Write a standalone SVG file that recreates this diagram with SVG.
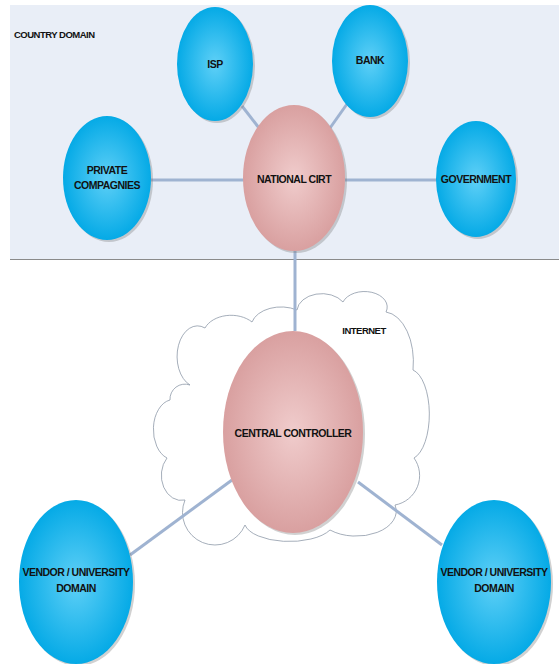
<svg xmlns="http://www.w3.org/2000/svg" width="559" height="664" viewBox="0 0 559 664">
<style>
.lbl{font-family:"Liberation Sans",Arial,sans-serif;font-weight:bold;font-size:10.5px;fill:#111;text-anchor:middle;letter-spacing:-0.5px}
.conn{stroke:#9fb3d1;stroke-width:3;fill:none}
.blue{fill:url(#gBlue)}
.pink{fill:url(#gPink)}
.shadow{fill:#7a7a7a;opacity:0.35}
</style>
<defs>
<radialGradient id="gBlue" cx="50%" cy="50%" r="50%">
<stop offset="0" stop-color="#5fd0f7"/>
<stop offset="1" stop-color="#05aae6"/>
</radialGradient>
<radialGradient id="gPink" cx="50%" cy="50%" r="50%">
<stop offset="0" stop-color="#f0cccc"/>
<stop offset="1" stop-color="#d9a0a0"/>
</radialGradient>
</defs>
<rect width="559" height="664" fill="#ffffff"/>
<g id="country-domain">
<rect x="10" y="5" width="549" height="254" fill="#e9eef7"/>
<line x1="10" y1="259.5" x2="559" y2="259.5" stroke="#8a8a8a" stroke-width="1"/>
<text class="lbl" x="14" y="38" style="text-anchor:start;font-size:9.5px">COUNTRY DOMAIN</text>
</g>
<g id="internet-cloud">
<path d="M 297 310 A 25 18 0 0 1 343 302 A 22 15 0 0 1 386 312 A 30 50 0 0 1 413 370 A 20 45 0 0 1 414 458 A 30 30 0 0 1 395 505 A 40 25 0 0 1 330 530 A 45 20 0 0 1 245 525 A 30 30 0 0 1 185 500 A 20 25 0 0 1 167 458 A 20 30 0 0 1 170 400 A 15 15 0 0 1 190 385 A 20 30 0 0 1 205 328 A 28 20 0 0 1 252 322 A 30 20 0 0 1 297 310 Z" fill="#ffffff" stroke="#8e99a8" stroke-width="0.8"/>
<text class="lbl" x="364" y="334" style="font-size:9.5px">INTERNET</text>
</g>
<g id="connectors">
<line class="conn" x1="151" y1="180" x2="244" y2="180"/>
<line class="conn" x1="345" y1="180" x2="437" y2="180"/>
<line class="conn" x1="242" y1="106" x2="259" y2="128"/>
<line class="conn" x1="347" y1="104" x2="330" y2="128"/>
<line class="conn" x1="295" y1="251" x2="295" y2="331"/>
<line class="conn" x1="232" y1="480" x2="130" y2="555"/>
<line class="conn" x1="358" y1="482" x2="442" y2="545"/>
</g>
<g id="isp">
<ellipse class="shadow" cx="217" cy="66" rx="38" ry="57"/>
<ellipse class="blue" cx="215" cy="64" rx="38" ry="57"/>
<text class="lbl" x="215" y="68">ISP</text>
</g>
<g id="bank">
<ellipse class="shadow" cx="372" cy="63" rx="38" ry="56"/>
<ellipse class="blue" cx="370" cy="61" rx="38" ry="56"/>
<text class="lbl" x="370" y="64">BANK</text>
</g>
<g id="private-compagnies">
<ellipse class="shadow" cx="109" cy="180" rx="44" ry="62"/>
<ellipse class="blue" cx="107" cy="178" rx="44" ry="62"/>
<text class="lbl" x="107" y="174">PRIVATE</text>
<text class="lbl" x="107" y="189">COMPAGNIES</text>
</g>
<g id="national-cirt">
<ellipse class="shadow" cx="296" cy="180" rx="51" ry="73"/>
<ellipse class="pink" cx="294" cy="178" rx="51" ry="73"/>
<text class="lbl" x="294" y="183">NATIONAL CIRT</text>
</g>
<g id="government">
<ellipse class="shadow" cx="478" cy="181" rx="40" ry="58"/>
<ellipse class="blue" cx="476" cy="179" rx="40" ry="58"/>
<text class="lbl" x="476" y="183">GOVERNMENT</text>
</g>
<g id="central-controller">
<ellipse class="shadow" cx="295" cy="434" rx="70" ry="101"/>
<ellipse class="pink" cx="293" cy="432" rx="70" ry="101"/>
<text class="lbl" x="293" y="437">CENTRAL CONTROLLER</text>
</g>
<g id="vendor-left">
<ellipse class="shadow" cx="78" cy="584" rx="57" ry="82"/>
<ellipse class="blue" cx="76" cy="582" rx="57" ry="82"/>
<text class="lbl" x="76" y="576">VENDOR / UNIVERSITY</text>
<text class="lbl" x="76" y="592">DOMAIN</text>
</g>
<g id="vendor-right">
<ellipse class="shadow" cx="496" cy="584" rx="57" ry="82"/>
<ellipse class="blue" cx="494" cy="582" rx="57" ry="82"/>
<text class="lbl" x="494" y="576">VENDOR / UNIVERSITY</text>
<text class="lbl" x="494" y="592">DOMAIN</text>
</g>
</svg>
